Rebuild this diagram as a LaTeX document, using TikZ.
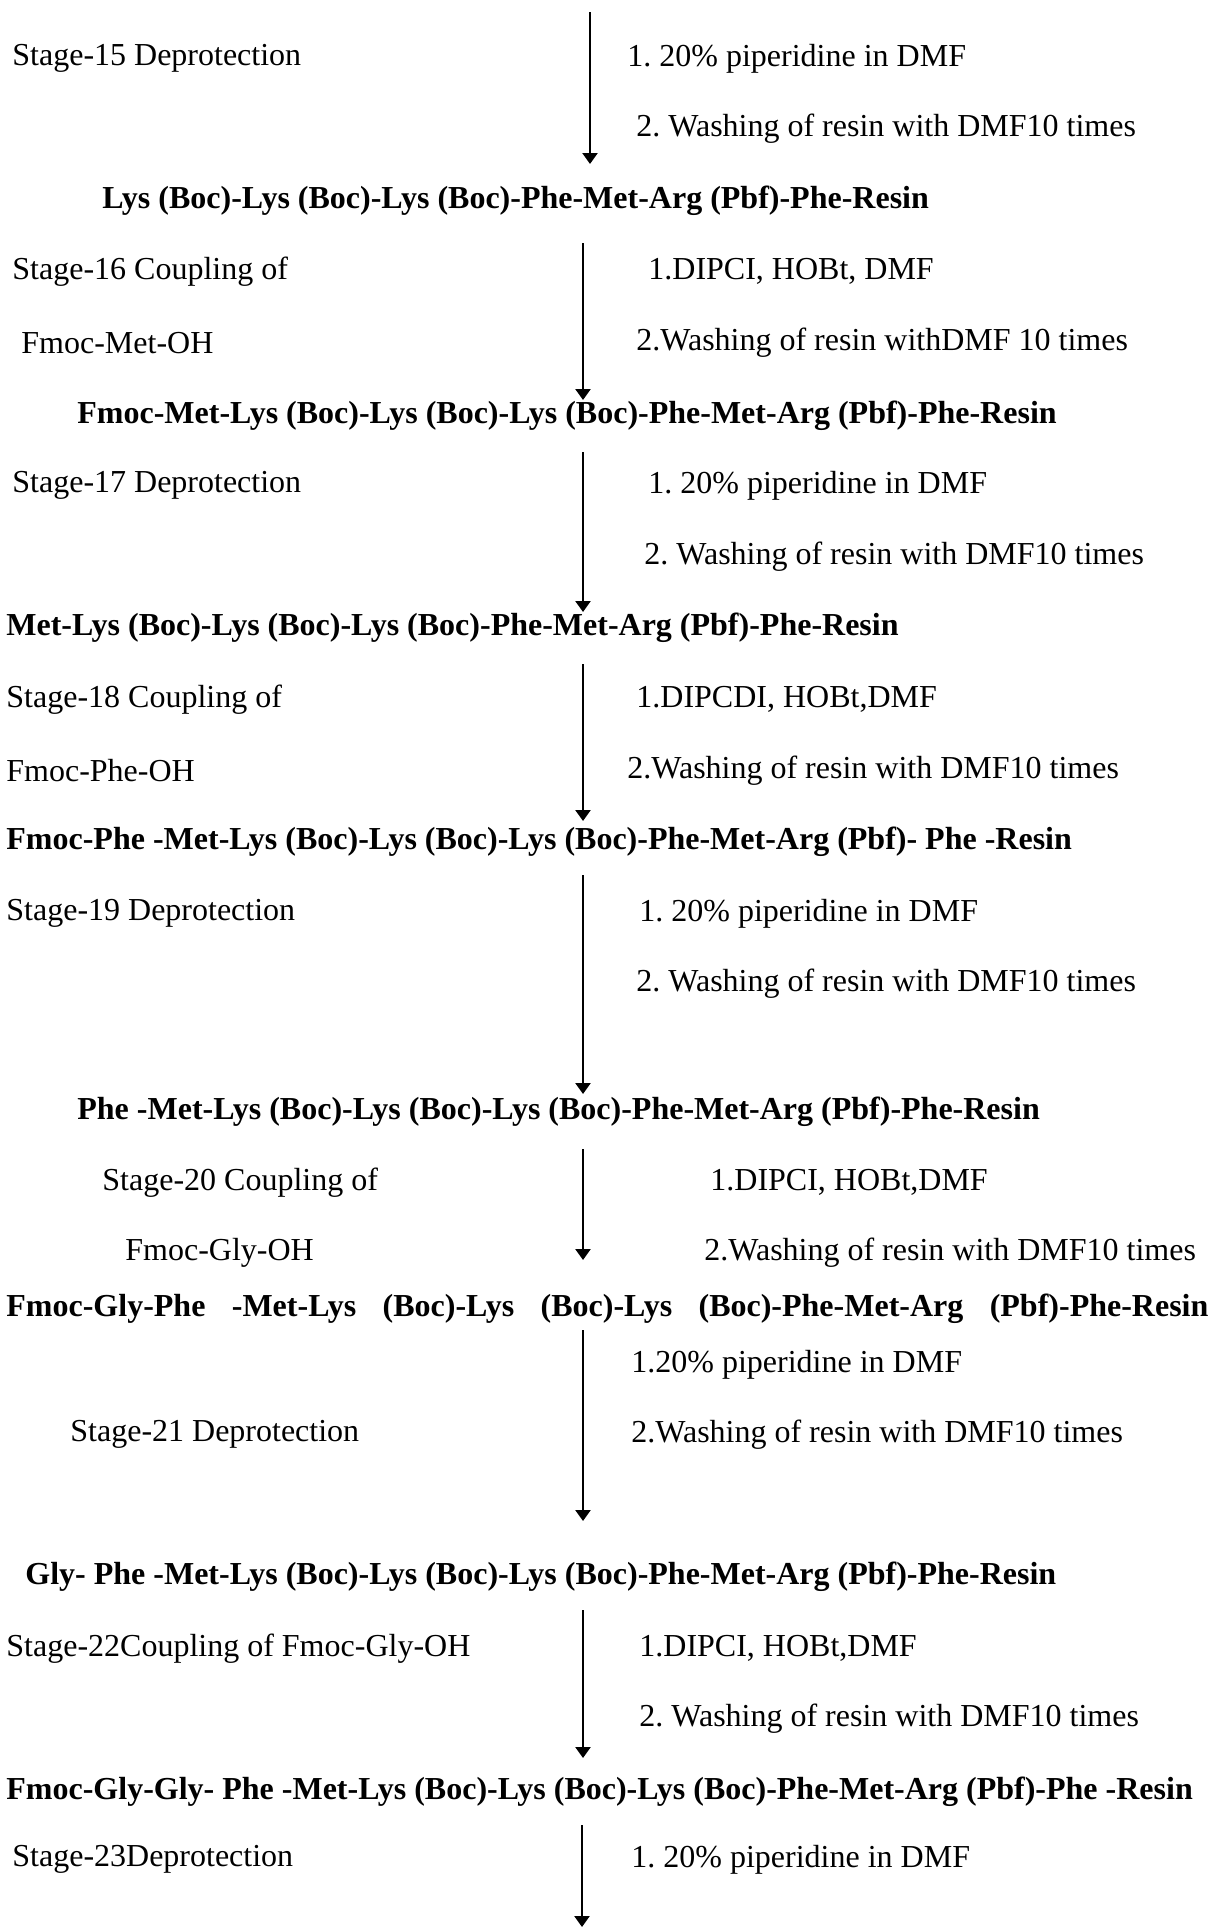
\documentclass[tikz,border=0pt]{standalone}
\usepackage{fontspec}
\setmainfont{Liberation Serif}
\usetikzlibrary{arrows.meta, positioning}
\frenchspacing

\begin{document}
\begin{tikzpicture}[x=0.5pt, y=-0.5pt,
    lbl/.style={anchor=west, inner sep=0pt, yshift=-1.8pt, font=\fontsize{16}{19}\selectfont},
    prod/.style={anchor=west, inner sep=0pt, yshift=-1.8pt, font=\fontsize{16}{19}\selectfont\bfseries},
    arr/.style={-{Triangle[width=7.5pt, length=5.5pt]}, line width=1.2pt}]
    \useasboundingbox (0,0) rectangle (1212,1928);

    % stage 15
    \node[lbl] (st15) at (12,55) {Stage-15 Deprotection};
    \node[lbl] (r15a) at (627,55) {1. 20\% piperidine in DMF};
    \node[lbl] (r15b) at (636,125) {2. Washing of resin with DMF10 times};
    \coordinate (s15) at (590,12);
    \coordinate (e15) at (590,164);
    \draw[arr] (s15) -- (e15);
    \node[prod] (p15) at (102,197) {Lys (Boc)-Lys (Boc)-Lys (Boc)-Phe-Met-Arg (Pbf)-Phe-Resin};

    % stage 16
    \node[lbl] (st16) at (12,268) {Stage-16 Coupling of};
    \node[lbl] (aa16) at (21,339) {Fmoc-Met-OH};
    \node[lbl] (r16a) at (648,268) {1.DIPCI, HOBt, DMF};
    \node[lbl] (r16b) at (636,339) {2.Washing of resin withDMF 10 times};
    \coordinate (s16) at (583,243);
    \coordinate (e16) at (583,400);
    \draw[arr] (s16) -- (e16);
    \node[prod] (p16) at (77,412) {Fmoc-Met-Lys (Boc)-Lys (Boc)-Lys (Boc)-Phe-Met-Arg (Pbf)-Phe-Resin};

    % stage 17
    \node[lbl] (st17) at (12,482) {Stage-17 Deprotection};
    \node[lbl] (r17a) at (648,482) {1. 20\% piperidine in DMF};
    \node[lbl] (r17b) at (644,553) {2. Washing of resin with DMF10 times};
    \coordinate (s17) at (583,452);
    \coordinate (e17) at (583,612);
    \draw[arr] (s17) -- (e17);
    \node[prod] (p17) at (6,624) {Met-Lys (Boc)-Lys (Boc)-Lys (Boc)-Phe-Met-Arg (Pbf)-Phe-Resin};

    % stage 18
    \node[lbl] (st18) at (6,696) {Stage-18 Coupling of};
    \node[lbl] (aa18) at (6,767) {Fmoc-Phe-OH};
    \node[lbl] (r18a) at (636,696) {1.DIPCDI, HOBt,DMF};
    \node[lbl] (r18b) at (627,767) {2.Washing of resin with DMF10 times};
    \coordinate (s18) at (583,664);
    \coordinate (e18) at (583,821);
    \draw[arr] (s18) -- (e18);
    \node[prod] (p18) at (6,838) {Fmoc-Phe -Met-Lys (Boc)-Lys (Boc)-Lys (Boc)-Phe-Met-Arg (Pbf)- Phe -Resin};

    % stage 19
    \node[lbl] (st19) at (6,910) {Stage-19 Deprotection};
    \node[lbl] (r19a) at (639,910) {1. 20\% piperidine in DMF};
    \node[lbl] (r19b) at (636,980) {2. Washing of resin with DMF10 times};
    \coordinate (s19) at (583,875);
    \coordinate (e19) at (583,1094);
    \draw[arr] (s19) -- (e19);
    \node[prod] (p19) at (77,1108) {Phe -Met-Lys (Boc)-Lys (Boc)-Lys (Boc)-Phe-Met-Arg (Pbf)-Phe-Resin};

    % stage 20
    \node[lbl] (st20) at (102,1179) {Stage-20 Coupling of};
    \node[lbl] (aa20) at (125,1249) {Fmoc-Gly-OH};
    \node[lbl] (r20a) at (710,1179) {1.DIPCI, HOBt,DMF};
    \node[lbl] (r20b) at (704,1249) {2.Washing of resin with DMF10 times};
    \coordinate (s20) at (583,1149);
    \coordinate (e20) at (583,1260);
    \draw[arr] (s20) -- (e20);
    \node[prod] (p20) at (6,1305) {\makebox[601pt][s]{Fmoc-Gly-Phe -Met-Lys (Boc)-Lys (Boc)-Lys (Boc)-Phe-Met-Arg (Pbf)-Phe-Resin}};

    % stage 21
    \node[lbl] (st21) at (70,1431) {Stage-21 Deprotection};
    \node[lbl] (r21a) at (631,1361) {1.20\% piperidine in DMF};
    \node[lbl] (r21b) at (631,1431) {2.Washing of resin with DMF10 times};
    \coordinate (s21) at (583,1330);
    \coordinate (e21) at (583,1521);
    \draw[arr] (s21) -- (e21);
    \node[prod] (p21) at (25,1573) {Gly- Phe -Met-Lys (Boc)-Lys (Boc)-Lys (Boc)-Phe-Met-Arg (Pbf)-Phe-Resin};

    % stage 22
    \node[lbl] (st22) at (6,1645) {Stage-22Coupling of Fmoc-Gly-OH};
    \node[lbl] (r22a) at (639,1645) {1.DIPCI, HOBt,DMF};
    \node[lbl] (r22b) at (639,1715) {2. Washing of resin with DMF10 times};
    \coordinate (s22) at (583,1610);
    \coordinate (e22) at (583,1758);
    \draw[arr] (s22) -- (e22);
    \node[prod] (p22) at (6,1788) {Fmoc-Gly-Gly- Phe -Met-Lys (Boc)-Lys (Boc)-Lys (Boc)-Phe-Met-Arg (Pbf)-Phe -Resin};

    % stage 23
    \node[lbl] (st23) at (12,1856) {Stage-23Deprotection};
    \node[lbl] (r23a) at (631,1856) {1. 20\% piperidine in DMF};
    \coordinate (s23) at (582,1825);
    \coordinate (e23) at (582,1927);
    \draw[arr] (s23) -- (e23);
\end{tikzpicture}
\end{document}
